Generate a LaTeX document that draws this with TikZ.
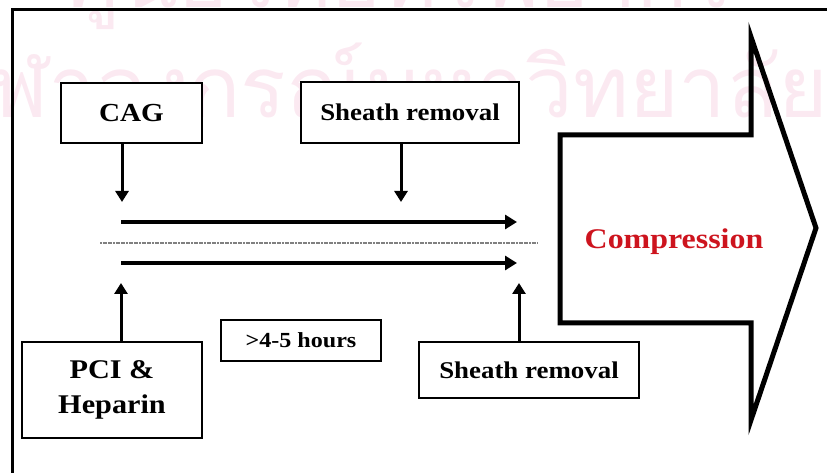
\documentclass[tikz,border=0pt]{standalone}
\usepackage{fontspec}
\setmainfont{Liberation Serif}[FakeStretch=1.12]
\newfontfamily\thaifont[Script=Thai]{Loma}
\usepackage{xcolor}
\usetikzlibrary{arrows.meta}
\definecolor{wmpink}{RGB}{251,233,241}
\definecolor{compred}{RGB}{205,20,30}

\begin{document}
\begin{tikzpicture}[
  x=1pt, y=1pt,
  box/.style={
    draw, line width=2pt, rectangle, fill=white,
    font=\bfseries\fontsize{#1}{35}\selectfont, align=center, inner sep=0pt
  },
  arr/.style={-{Triangle[length=11pt,width=13pt]}, line width=3pt},
  flow/.style={-{Triangle[length=12pt,width=14pt]}, line width=4.5pt},
  divider/.style={line width=2.8pt, black!50, dash pattern=on 2pt off 0.6pt},
  watermark/.style={text=wmpink, font=\thaifont\fontsize{85}{90}\selectfont, inner sep=0pt},
]
\useasboundingbox (0,0) rectangle (827,473);
\clip (0,0) rectangle (827,473);

\node[watermark, anchor=base west] (wmlow) at (-60,355) {จุฬาลงกรณ์มหาวิทยาลัย};
\node[watermark, anchor=base] (wmtop) at (400,465) {ศูนย์วิทยทรัพยากร};

\draw[line width=3pt] (12,-10) -- (12,463) -- (840,463);

\node[box=26, minimum width=141pt, minimum height=60pt] (cag)   at (131.5,360) {CAG};
\node[box=24, minimum width=218pt, minimum height=61pt] (srtop) at (410,360.5) {Sheath removal};
\node[box=27, minimum width=180pt, minimum height=96pt] (pci)   at (112,83) {PCI \&\\Heparin};
\node[box=21.5, minimum width=160pt, minimum height=41pt] (hours) at (301,132.5) {>4-5 hours};
\node[box=24, minimum width=220pt, minimum height=56pt] (srbot) at (529,103) {Sheath removal};

\coordinate (cagtip) at (122,271);
\coordinate (srtip)  at (401,271);
\coordinate (pcitip) at (121,190);
\coordinate (srbtip) at (519,190);
\draw[arr] (cag.south -| cagtip)   -- (cagtip);
\draw[arr] (srtop.south -| srtip)  -- (srtip);
\draw[arr] (pci.north -| pcitip)   -- (pcitip);
\draw[arr] (srbot.north -| srbtip) -- (srbtip);

\coordinate (upA)  at (121,251);
\coordinate (upB)  at (517,251);
\coordinate (loA)  at (121,210);
\coordinate (loB)  at (517,210);
\coordinate (divA) at (100,230);
\coordinate (divB) at (537,230);
\draw[flow] (upA) -- (upB);
\draw[flow] (loA) -- (loB);
\draw[divider] (divA) -- (divB);

\draw[line width=5pt] (560,338) -- (751,338) -- (751,436) -- (816,245)
  -- (751,53) -- (751,150) -- (560,150) -- cycle;
\node[text=compred, font=\bfseries\fontsize{28.5}{32}\selectfont] (comp) at (674,231) {Compression};

\end{tikzpicture}
\end{document}
